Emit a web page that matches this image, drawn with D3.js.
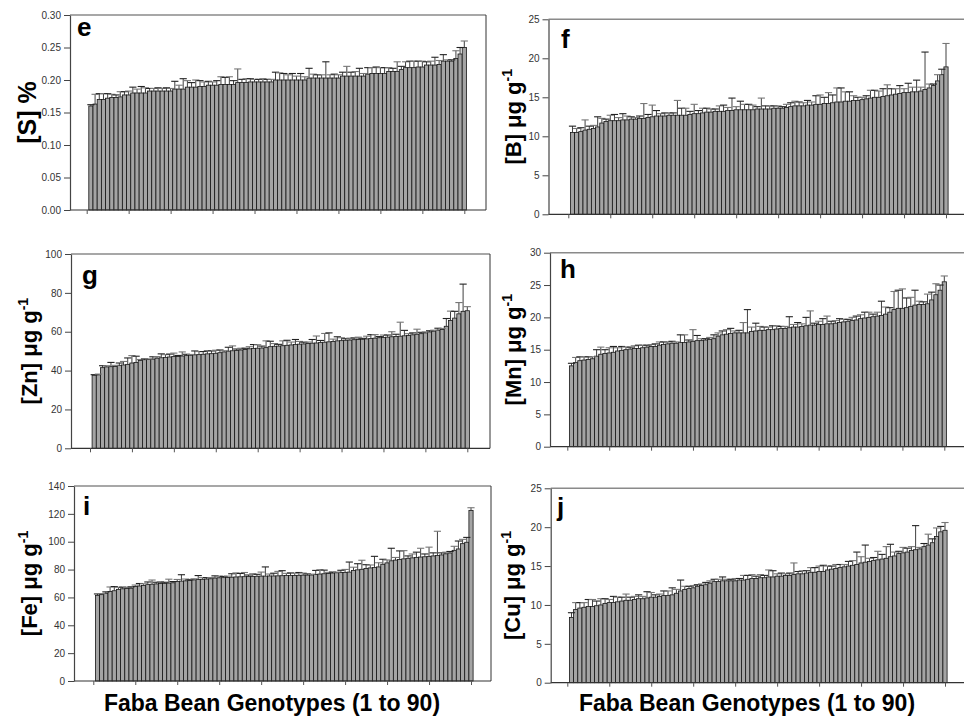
<!DOCTYPE html>
<html><head><meta charset="utf-8">
<script src="https://cdn.jsdelivr.net/npm/d3@7/dist/d3.min.js"></script>
<style>body{margin:0;background:#fff}svg{display:block}</style>
</head><body>
<svg id="c" width="964" height="720"></svg>
<script>
// Genotypes 1..90, each panel sorted ascending
const sVals=[0.160,0.163,0.170,0.170,0.172,0.173,0.173,0.174,0.177,0.177,0.180,0.180,0.180,0.180,0.183,0.183,0.183,0.183,0.183,0.183,0.186,0.186,0.186,0.189,0.189,0.189,0.190,0.190,0.192,0.192,0.192,0.193,0.193,0.193,0.193,0.196,0.196,0.196,0.197,0.197,0.197,0.197,0.197,0.197,0.200,0.200,0.200,0.200,0.200,0.200,0.200,0.200,0.203,0.203,0.203,0.203,0.203,0.203,0.203,0.203,0.206,0.206,0.206,0.206,0.206,0.206,0.209,0.210,0.210,0.210,0.210,0.213,0.213,0.213,0.216,0.219,0.219,0.219,0.220,0.220,0.223,0.223,0.223,0.224,0.229,0.229,0.229,0.233,0.240,0.250];
const sErr=[0.002,0.015,0.009,0.009,0.007,0.005,0.004,0.008,0.005,0.006,0.009,0.006,0.010,0.008,0.004,0.004,0.005,0.004,0.005,0.004,0.012,0.006,0.016,0.010,0.007,0.011,0.009,0.007,0.006,0.005,0.007,0.012,0.011,0.012,0.006,0.021,0.005,0.006,0.005,0.004,0.004,0.005,0.004,0.004,0.012,0.011,0.010,0.008,0.010,0.006,0.010,0.005,0.015,0.006,0.005,0.005,0.025,0.005,0.006,0.005,0.006,0.015,0.006,0.007,0.012,0.004,0.010,0.009,0.010,0.009,0.009,0.006,0.005,0.015,0.005,0.009,0.010,0.010,0.009,0.009,0.005,0.006,0.012,0.006,0.010,0.002,0.002,0.012,0.010,0.010];
const bVals=[10.5,10.5,10.6,10.8,10.9,11.0,11.2,11.7,11.9,12.0,12.0,12.0,12.1,12.1,12.2,12.2,12.3,12.3,12.4,12.5,12.6,12.6,12.6,12.7,12.7,12.7,12.7,12.7,12.8,12.9,12.9,13.0,13.1,13.1,13.2,13.2,13.2,13.3,13.3,13.4,13.4,13.4,13.4,13.4,13.5,13.5,13.5,13.5,13.6,13.6,13.6,13.7,13.8,13.9,13.9,13.9,14.0,14.0,14.1,14.1,14.2,14.2,14.3,14.4,14.4,14.5,14.5,14.6,14.6,14.7,14.8,14.9,15.0,15.0,15.1,15.2,15.3,15.4,15.5,15.6,15.6,15.7,15.7,15.8,16.0,16.2,16.5,17.1,17.9,18.9];
const bErr=[0.8,0.5,0.5,1.3,0.4,0.4,1.3,0.6,0.3,0.7,0.8,0.4,0.8,0.5,0.3,0.2,0.3,1.9,0.4,1.5,0.7,0.3,0.4,0.3,0.3,1.9,0.9,0.9,0.4,1.2,0.4,0.6,0.5,0.4,0.3,0.7,0.8,0.4,1.6,0.4,1.1,0.7,0.7,0.6,0.3,1.4,0.4,0.4,0.3,0.3,0.2,0.4,0.5,0.6,0.5,0.4,0.6,0.4,1.1,1.2,0.8,1.4,1.0,1.8,1.8,1.2,1.2,0.6,0.4,0.3,0.4,1.0,0.9,0.8,1.0,1.4,0.8,0.7,1.0,0.5,1.2,0.6,1.5,0.5,4.8,0.5,0.2,0.8,0.7,3.0];
const znVals=[37.6,37.8,41.5,41.9,42.0,42.1,42.7,42.9,43.2,43.9,44.2,45.2,45.6,45.7,45.9,46.4,46.6,46.8,47.0,47.2,47.3,47.5,47.7,47.9,48.1,48.2,48.4,48.6,48.7,48.9,49.2,49.6,50.0,50.2,50.3,50.6,50.9,51.2,51.4,51.5,51.6,51.8,52.3,52.5,52.6,52.8,53.0,53.2,53.4,53.6,53.7,53.9,54.1,54.2,54.4,54.6,54.8,55.0,55.3,55.4,55.6,55.7,55.9,56.0,56.1,56.3,56.5,56.7,56.9,57.0,57.2,57.4,57.5,57.7,57.9,58.1,58.4,58.7,59.0,59.4,59.9,60.3,60.8,61.2,62.8,65.8,67.0,69.2,70.5,70.8];
const znErr=[0.3,0.4,1.0,0.6,2.2,0.6,1.2,1.8,3.3,3.8,3.2,0.5,0.4,0.3,1.2,0.8,2.0,1.4,1.5,1.8,0.5,2.1,0.7,0.4,2.0,1.6,1.4,1.7,1.4,1.6,1.4,0.6,2.0,2.5,0.8,0.9,0.6,1.1,2.0,1.8,1.0,3.5,2.8,1.4,0.9,2.5,2.6,1.5,2.6,1.4,0.9,0.8,1.9,3.6,1.1,4.5,4.6,1.2,2.1,1.5,0.8,1.0,0.9,1.2,0.5,1.4,2.0,1.8,0.6,1.3,1.1,2.6,1.2,7.2,2.8,0.9,1.0,2.6,0.7,0.5,0.6,0.5,1.0,0.5,4.0,4.8,3.5,5.8,14.0,2.1];
const mnVals=[12.5,13.0,13.3,13.4,13.5,13.6,14.0,14.3,14.4,14.5,14.6,14.8,14.9,15.0,15.1,15.2,15.2,15.3,15.4,15.5,15.5,15.7,15.8,15.9,16.0,16.0,16.1,16.1,16.2,16.3,16.4,16.4,16.5,16.6,16.7,17.1,17.3,17.4,17.5,17.6,17.6,17.6,17.6,17.8,17.9,18.0,18.0,18.1,18.1,18.2,18.3,18.3,18.4,18.5,18.5,18.6,18.7,18.8,18.8,18.9,18.9,19.0,19.0,19.1,19.2,19.3,19.4,19.5,19.6,19.8,19.9,20.0,20.1,20.2,20.3,20.5,20.8,21.2,21.4,21.4,21.5,21.7,21.9,22.0,22.0,22.1,22.7,23.5,24.2,25.5];
const mnErr=[0.4,0.8,0.6,0.5,0.4,0.3,1.0,1.1,0.6,0.8,0.9,0.5,0.6,0.4,0.3,0.4,0.5,0.4,0.3,0.3,0.4,0.5,0.4,0.3,0.3,0.2,1.2,1.2,0.3,1.8,0.8,0.3,0.2,0.3,0.6,0.5,0.6,0.7,0.8,0.3,0.4,1.6,3.6,0.7,1.2,0.6,0.5,0.4,0.6,0.5,0.3,0.3,1.7,0.4,0.7,0.4,1.3,2.2,0.3,0.5,0.9,1.2,0.4,0.4,0.6,0.4,0.3,0.5,0.6,0.6,0.9,0.8,0.4,0.6,2.2,1.1,0.7,2.8,2.8,3.0,1.5,1.4,2.3,0.5,0.4,1.5,1.2,1.7,0.8,0.9];
const feVals=[61.5,62.0,63.0,64.3,64.8,65.8,66.2,66.4,66.6,67.8,68.2,68.5,69.2,69.5,69.7,70.0,70.1,70.3,70.5,71.4,71.7,71.9,72.1,72.6,72.8,73.0,73.2,73.4,73.9,74.1,74.2,74.3,74.5,74.7,74.8,74.9,75.0,75.1,75.2,75.3,75.3,75.4,75.4,75.5,75.6,75.7,75.7,75.8,75.9,76.0,76.0,76.1,76.5,76.8,77.0,77.2,77.5,77.7,77.9,78.0,78.2,79.3,79.8,80.2,80.8,81.2,81.5,81.9,83.8,84.8,86.3,86.8,87.2,87.7,88.1,88.4,88.7,89.0,89.2,89.5,89.8,90.1,90.5,91.3,91.9,93.8,94.8,98.6,99.6,122.5];
const feErr=[1.0,0.8,1.0,3.2,3.0,1.5,1.2,0.9,1.0,1.1,1.8,1.3,1.9,3.0,1.2,1.3,0.8,2.8,0.9,1.5,4.6,1.3,0.6,0.8,2.9,1.2,1.0,0.9,1.6,1.2,0.9,1.0,2.5,2.9,2.4,3.0,1.1,1.9,1.4,2.9,6.6,1.4,2.0,3.2,3.6,1.6,1.9,1.6,2.0,1.5,0.9,0.6,2.9,3.1,2.6,0.8,0.7,0.5,1.6,2.1,7.2,2.4,4.4,6.5,2.7,2.1,8.0,3.0,3.6,2.1,9.0,1.9,6.2,5.9,1.7,2.8,3.8,6.3,2.0,6.6,2.2,17.4,1.5,1.2,1.1,2.9,5.7,3.1,3.5,1.9];
const cuVals=[8.4,9.4,9.6,9.7,9.8,9.8,9.9,10.0,10.2,10.3,10.3,10.4,10.5,10.6,10.6,10.7,10.8,10.8,10.9,11.0,11.0,11.1,11.2,11.2,11.3,11.5,11.8,12.0,12.1,12.2,12.4,12.5,12.6,12.8,13.0,13.0,13.1,13.1,13.1,13.1,13.2,13.2,13.3,13.4,13.4,13.5,13.5,13.6,13.6,13.7,13.7,13.8,13.8,13.9,14.0,14.0,14.1,14.2,14.2,14.3,14.3,14.5,14.6,14.7,14.8,14.9,15.0,15.1,15.2,15.4,15.5,15.6,15.7,15.8,15.9,16.0,16.2,16.3,16.6,16.7,16.8,17.0,17.1,17.2,17.5,17.7,18.0,18.8,19.4,19.6];
const cuErr=[0.6,0.9,0.7,0.6,0.9,0.9,0.6,0.8,0.6,0.4,0.8,0.6,0.5,0.8,0.4,0.4,0.5,0.3,0.8,0.6,0.3,0.3,0.6,0.6,0.9,0.5,1.4,0.4,0.3,0.3,0.2,0.2,0.3,0.3,0.3,0.3,0.5,0.2,0.2,0.3,0.2,0.6,0.5,0.5,0.3,0.4,0.3,0.9,0.8,0.3,0.4,0.2,0.3,1.5,0.3,0.4,0.3,0.6,0.6,0.7,0.8,0.5,0.4,0.5,0.4,0.3,0.6,0.6,1.6,0.8,2.2,0.4,0.4,1.1,0.6,1.5,1.6,0.5,0.3,0.7,0.5,0.5,3.1,0.2,0.4,1.4,0.5,1.1,0.7,1.0];

const xTicks=[0,10,20,30,40,50,60,70,80,90];
const xTitle="Faba Bean Genotypes (1 to 90)";

const panels=[
 {letter:"e",vals:sVals,errs:sErr,yMax:0.30,yStep:0.05,fmt:".2f",label:"[S] %",sup:false,labSize:25,
  ax:70,right:486,top:15,bottom:210,t0:86.7,t90:464.3,lx:77,ly:36,labX:36},
 {letter:"f",vals:bVals,errs:bErr,yMax:25,yStep:5,fmt:"d",label:"[B] μg g",sup:true,labSize:22,
  ax:548.5,right:968,top:19.3,bottom:214.3,t0:568.3,t90:946,lx:561,ly:48,labX:521},
 {letter:"g",vals:znVals,errs:znErr,yMax:100,yStep:20,fmt:"d",label:"[Zn] μg g",sup:true,labSize:22,
  ax:71,right:490,top:254,bottom:448.3,t0:90,t90:467.3,lx:82,ly:284,labX:37},
 {letter:"h",vals:mnVals,errs:mnErr,yMax:30,yStep:5,fmt:"d",label:"[Mn] μg g",sup:true,labSize:22,
  ax:550,right:968,top:252.7,bottom:446.7,t0:567.3,t90:944.3,lx:560,ly:278,labX:521},
 {letter:"i",vals:feVals,errs:feErr,yMax:140,yStep:20,fmt:"d",label:"[Fe] μg g",sup:true,labSize:22,
  ax:74,right:491,top:486,bottom:681,t0:93.3,t90:471,lx:83,ly:515,labX:37},
 {letter:"j",vals:cuVals,errs:cuErr,yMax:25,yStep:5,fmt:"d",label:"[Cu] μg g",sup:true,labSize:22,
  ax:550.7,right:968,top:488.3,bottom:682.7,t0:567.3,t90:945,lx:557,ly:516,labX:520}
];

const svg=d3.select("#c");
const FONT="Liberation Sans, Arial, Helvetica, sans-serif";

panels.forEach(p=>{
  const g=svg.append("g");
  const y=d3.scaleLinear().domain([0,p.yMax]).range([p.bottom,p.top]);
  const x=d3.scaleLinear().domain([0,90]).range([p.t0,p.t90]);
  const bw=x(1)-x(0);
  const data=p.vals.map((v,i)=>({k:i+1,v:v,e:p.errs[i]}));

  // bars
  g.selectAll("rect.bar").data(data).join("rect")
    .attr("x",d=>x(d.k-0.5)).attr("y",d=>y(d.v))
    .attr("width",bw).attr("height",d=>p.bottom-y(d.v))
    .attr("fill","#a4a4a4").attr("stroke","#161616").attr("stroke-width",0.8);
  // error bars (upper)
  const eb=g.selectAll("g.err").data(data).join("g");
  eb.append("line").attr("x1",d=>x(d.k)).attr("x2",d=>x(d.k))
    .attr("y1",d=>y(d.v)).attr("y2",d=>y(d.v+d.e))
    .attr("stroke","#2a2a2a").attr("stroke-width",0.9);
  eb.append("line").attr("x1",d=>x(d.k)-3.6).attr("x2",d=>x(d.k)+3.6)
    .attr("y1",d=>y(d.v+d.e)).attr("y2",d=>y(d.v+d.e))
    .attr("stroke",(d,i)=>i%2?"#777":"#222").attr("stroke-width",1.1);

  // frame: top and right
  g.append("line").attr("x1",p.ax).attr("x2",Math.min(p.right,964)).attr("y1",p.top).attr("y2",p.top)
    .attr("stroke","#8a8a8a").attr("stroke-width",1.6);
  if(p.right<964){
    g.append("line").attr("x1",p.right).attr("x2",p.right).attr("y1",p.top).attr("y2",p.bottom)
      .attr("stroke","#333").attr("stroke-width",1);
  }
  // bottom line
  g.append("line").attr("x1",p.ax).attr("x2",Math.min(p.right,964)).attr("y1",p.bottom).attr("y2",p.bottom)
    .attr("stroke","#333").attr("stroke-width",1.2);

  // y axis
  const yAxis=d3.axisLeft(y).tickValues(d3.range(0,p.yMax+p.yStep/2,p.yStep))
    .tickSize(6).tickSizeOuter(0).tickPadding(3).tickFormat(d3.format(p.fmt));
  const ya=g.append("g").attr("transform",`translate(${p.ax},0)`).call(yAxis);
  ya.select(".domain").attr("stroke","#444").attr("stroke-width",1.2);
  ya.selectAll(".tick line").attr("stroke","#444");
  ya.selectAll(".tick text").attr("font-family",FONT).attr("font-size",10).attr("fill","#333");

  // x axis ticks
  const xAxis=d3.axisBottom(x).tickValues(xTicks).tickSize(4).tickSizeOuter(0).tickFormat("");
  const xa=g.append("g").attr("transform",`translate(0,${p.bottom})`).call(xAxis);
  xa.select(".domain").remove();
  xa.selectAll(".tick line").attr("stroke","#555");

  // panel letter
  g.append("text").attr("x",p.lx).attr("y",p.ly).text(p.letter)
    .attr("font-family",FONT).attr("font-weight","bold").attr("font-size",26).attr("fill","#000");

  // y label
  const cy=(p.top+p.bottom)/2;
  const t=g.append("text").attr("transform",`translate(${p.labX},${cy}) rotate(-90)`)
    .attr("text-anchor","middle").attr("font-family",FONT).attr("font-weight","bold")
    .attr("font-size",p.labSize).attr("fill","#000");
  t.append("tspan").text(p.label);
  if(p.sup){ t.append("tspan").attr("font-size",14).attr("dy",-9).text("-1"); }
});

// x titles
[272,747].forEach(cx=>{
  svg.append("text").attr("x",cx).attr("y",711).attr("text-anchor","middle")
    .attr("font-family",FONT).attr("font-weight","bold").attr("font-size",23).attr("fill","#000")
    .text(xTitle);
});
</script>
</body></html>
